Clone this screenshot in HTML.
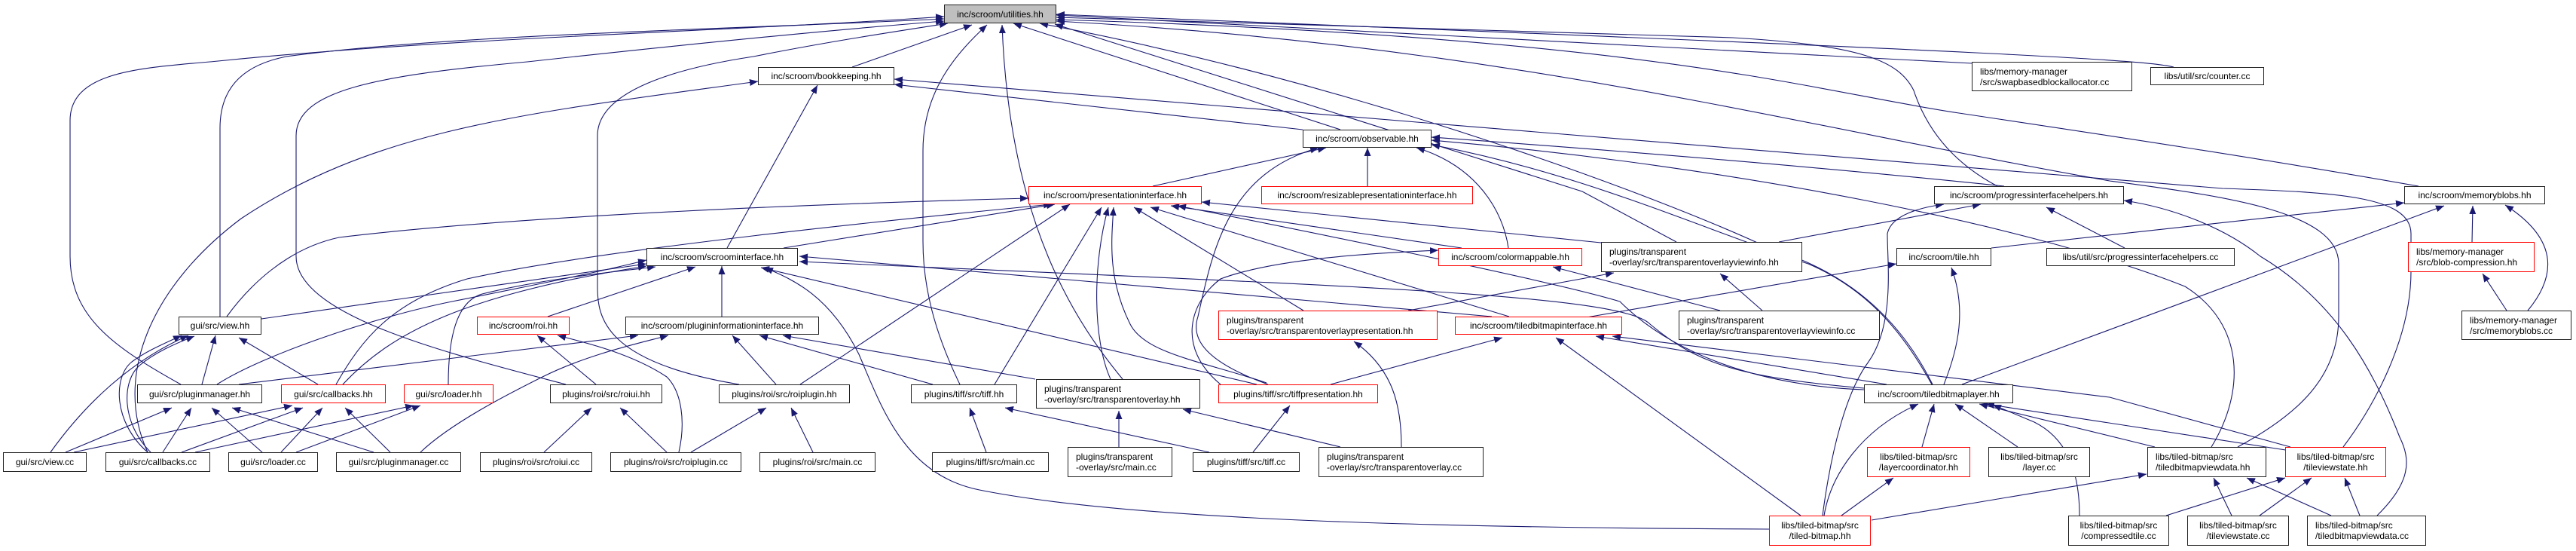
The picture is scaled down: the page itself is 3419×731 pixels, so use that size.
<!DOCTYPE html>
<html><head><meta charset="utf-8"><style>
html,body{margin:0;padding:0;background:#fff;}
#c{position:relative;width:3419px;height:731px;overflow:hidden;background:#fff;}
svg{position:absolute;left:0;top:0;}
.n{position:absolute;box-sizing:border-box;border:1.3px solid #222;background:#fff;font:12px "Liberation Sans",sans-serif;color:#000;display:flex;align-items:center;justify-content:center;white-space:nowrap;}
.r{border-color:#f00;}
.t{justify-content:flex-start;padding-left:10px;line-height:14px;}
.g{background:#bfbfbf;}
</style></head><body><div id="c">
<svg width="3419" height="731" viewBox="0 0 3419 731">
<defs><marker id="a" markerWidth="12" markerHeight="9" refX="11" refY="4.5" orient="auto" markerUnits="userSpaceOnUse"><path d="M0,0 L11,4.5 L0,9 z" fill="#191970"/></marker></defs>
<g fill="none" stroke="#191970" stroke-width="1.1" marker-end="url(#a)">
<!-- to utilities -->
<path d="M240,510 C150,460 93,420 93,340 L93,160 C93,90 200,90 300,80 C600,50 1000,40 1253,22"/>
<path d="M292,420 L292,170 C292,110 330,85 380,75 C600,45 1000,38 1253,25"/>
<path d="M751,510 C600,470 393,420 393,340 L393,180 C393,120 500,100 700,82 C900,60 1100,40 1253,28"/>
<path d="M981,510 C800,480 793,420 793,380 L793,180 C793,120 900,90 1000,75 C1100,55 1200,40 1258,31"/>
<path d="M1131,89 L1290,33"/>
<path d="M1274,510 C1240,440 1225,380 1225,320 L1225,200 C1225,120 1270,70 1310,33"/>
<path d="M1490,503 C1430,430 1340,300 1330,33"/>
<path d="M1779,172 L1345,31"/>
<path d="M2225,321 L2100,254 L1400,32"/>
<path d="M2617,84 L1402,20"/>
<path d="M2885,89 C2850,80 2700,70 1402,19"/>
<path d="M2651,247 C2600,220 2560,180 2540,120 C2520,80 2470,60 2300,50 L1402,23"/>
<path d="M3210,247 C3000,210 2800,180 2600,150 C2400,120 2200,50 1402,26"/>
<path d="M2565,510 C2520,420 2450,360 2350,330 C2200,260 1800,110 1380,31"/>
<path d="M2970,593 C3050,550 3104,500 3104,420 L3104,350 C3104,280 2950,260 2800,240 C2400,170 2000,60 1402,28"/>
<!-- to bookkeeping -->
<path d="M965,329 L1085,113"/>
<path d="M196,600 C150,500 200,380 320,290 C500,170 700,150 1006,108"/>
<path d="M1729,172 L1187,112"/>
<path d="M3110,593 C3150,540 3200,450 3200,360 L3200,310 C3200,260 3100,255 2950,250 C2700,230 2000,170 1187,105"/>
<!-- to observable -->
<path d="M1530,247 L1760,196"/>
<path d="M1815,247 L1815,196"/>
<path d="M2002,329 C1995,280 1960,220 1880,196"/>
<path d="M1683,510 C1600,480 1580,450 1590,420 C1610,330 1630,230 1750,196"/>
<path d="M2564,510 C2520,430 2470,380 2400,350 C2250,300 2100,230 1900,192"/>
<path d="M2935,593 C2980,520 2980,430 2900,380 C2700,300 2300,220 1900,186"/>
<path d="M2660,247 C2400,220 2150,200 1900,182"/>
<!-- to presentationinterface -->
<path d="M1040,329 L1400,271"/>
<path d="M301,420 C330,380 380,330 450,315 C700,285 1100,270 1365,263"/>
<path d="M446,510 C480,450 520,400 620,370 C800,330 1200,290 1396,271"/>
<path d="M1474,503 C1450,450 1450,350 1471,275"/>
<path d="M1681,508 C1600,480 1520,470 1500,430 C1470,370 1475,320 1478,275"/>
<path d="M1320,510 L1462,275"/>
<path d="M1730,412 L1505,275"/>
<path d="M2003,420 L1527,275"/>
<path d="M1940,329 L1554,273"/>
<path d="M2474,517 C2300,510 2200,450 2150,400 C2050,370 1700,300 1563,273"/>
<path d="M2125,322 L1595,268"/>
<path d="M1062,510 L1420,271"/>
<!-- to scroominterface -->
<path d="M347,423 L858,350"/>
<path d="M455,510 C520,440 620,390 858,353"/>
<path d="M288,510 C350,470 500,420 600,400 C700,380 800,360 858,345"/>
<path d="M595,510 C595,450 605,400 640,390 C720,370 820,360 870,354"/>
<path d="M727,420 L923,354"/>
<path d="M958,420 L958,353"/>
<path d="M1668,510 L1010,355"/>
<path d="M2348,702 C1900,700 1500,690 1300,650 C1200,630 1170,540 1140,470 C1100,390 1050,370 1015,355"/>
<path d="M2474,515 C2300,500 2250,480 2190,430 C2150,390 1800,380 1061,347"/>
<path d="M1980,420 L1061,340"/>
<!-- to plugininformationinterface -->
<path d="M317,510 L847,445"/>
<path d="M558,600 C600,560 680,520 720,500 C780,470 850,455 887,445"/>
<path d="M1030,510 L972,445"/>
<path d="M1238,510 L1008,445"/>
<path d="M1374,503 L1039,445"/>
<!-- roi.hh -->
<path d="M791,510 L713,445"/>
<path d="M901,600 C910,560 905,520 885,500 C840,470 780,455 740,445"/>
<!-- view.hh -->
<path d="M268,510 L286,445"/>
<path d="M422,510 L317,448"/>
<path d="M67,600 C110,540 170,480 250,445"/>
<path d="M196,600 C150,560 150,500 175,480 C195,465 220,455 241,445"/>
<path d="M200,600 C160,560 162,505 185,485 C205,468 232,456 258,446"/>
<!-- pluginmanager.hh -->
<path d="M87,600 L228,541"/>
<path d="M216,600 L254,541"/>
<path d="M348,600 L281,541"/>
<path d="M496,600 L308,541"/>
<!-- callbacks.hh -->
<path d="M98,600 L388,538"/>
<path d="M241,600 L402,541"/>
<path d="M373,600 L428,541"/>
<path d="M518,600 L458,541"/>
<!-- loader.hh -->
<path d="M259,600 L549,538"/>
<path d="M393,600 L558,538"/>
<!-- roi -->
<path d="M722,600 L785,541"/>
<path d="M885,600 L823,541"/>
<path d="M917,600 L1017,541"/>
<path d="M1079,600 L1050,541"/>
<path d="M1309,600 L1287,541"/>
<path d="M1605,600 L1334,541"/>
<path d="M1485,593 L1485,545"/>
<path d="M1779,593 L1570,543"/>
<path d="M1663,600 L1712,538"/>
<path d="M1860,593 C1860,540 1850,490 1797,453"/>
<!-- tiledbitmapinterface -->
<path d="M1766,510 L1994,448"/>
<path d="M2504,510 L2118,446"/>
<path d="M3040,593 L2800,527 L2140,446"/>
<path d="M2390,684 L2065,448"/>
<path d="M2100,422 L2517,350"/>
<!-- colormappable / viewinfo -->
<path d="M1620,510 C1560,460 1580,400 1620,370 C1700,340 1850,335 1909,332"/>
<path d="M2283,412 L2061,354"/>
<path d="M1869,412 L2142,362"/>
<path d="M2339,412 L2283,363"/>
<!-- progressinterfacehelpers -->
<path d="M2361,321 L2629,271"/>
<path d="M2419,684 C2430,600 2450,520 2480,480 C2515,430 2505,350 2505,310 C2510,285 2550,275 2580,271"/>
<path d="M2820,329 L2716,275"/>
<path d="M3155,684 C3200,640 3200,610 3185,580 C3150,490 3100,400 3000,340 C2950,300 2880,275 2819,266"/>
<!-- memoryblobs -->
<path d="M2643,329 L3191,269"/>
<path d="M2604,510 L3244,273"/>
<path d="M3281,321 L3282,273"/>
<path d="M3355,412 C3390,370 3400,320 3325,272"/>
<path d="M3327,412 L3295,363"/>
<!-- tile.hh -->
<path d="M2580,510 C2600,460 2610,410 2590,355"/>
<!-- tiledbitmaplayer -->
<path d="M2421,684 C2430,630 2470,570 2546,536"/>
<path d="M2551,593 L2567,536"/>
<path d="M2678,593 L2595,536"/>
<path d="M2860,593 L2627,536"/>
<path d="M3040,598 L2636,536"/>
<path d="M2760,684 C2760,620 2740,580 2700,560 L2645,537"/>
<!-- layercoordinator -->
<path d="M2444,684 L2513,634"/>
<!-- tiledbitmapviewdata.hh -->
<path d="M2484,690 L2849,629"/>
<path d="M2962,684 L2938,634"/>
<path d="M3094,684 L2982,634"/>
<!-- tileviewstate.hh -->
<path d="M2875,684 L3033,634"/>
<path d="M2999,684 L3068,634"/>
<path d="M3132,684 L3112,634"/>
</g>
</svg>
<div class="n g" style="left:1253px;top:6px;width:149px;height:25px">inc/scroom/utilities.hh</div>
<div class="n" style="left:1006px;top:89px;width:181px;height:24px">inc/scroom/bookkeeping.hh</div>
<div class="n t" style="left:2617px;top:82px;width:213px;height:39px">libs/memory-manager<br>/src/swapbasedblockallocator.cc</div>
<div class="n" style="left:2854px;top:89px;width:151px;height:24px">libs/util/src/counter.cc</div>
<div class="n" style="left:1729px;top:172px;width:171px;height:24px">inc/scroom/observable.hh</div>
<div class="n r" style="left:1365px;top:247px;width:230px;height:24px">inc/scroom/presentationinterface.hh</div>
<div class="n r" style="left:1674px;top:247px;width:281px;height:24px">inc/scroom/resizablepresentationinterface.hh</div>
<div class="n" style="left:2567px;top:247px;width:252px;height:24px">inc/scroom/progressinterfacehelpers.hh</div>
<div class="n" style="left:3191px;top:247px;width:187px;height:24px">inc/scroom/memoryblobs.hh</div>
<div class="n" style="left:858px;top:329px;width:201px;height:24px">inc/scroom/scroominterface.hh</div>
<div class="n r" style="left:1909px;top:329px;width:191px;height:24px">inc/scroom/colormappable.hh</div>
<div class="n t" style="left:2125px;top:321px;width:267px;height:40px">plugins/transparent<br>-overlay/src/transparentoverlayviewinfo.hh</div>
<div class="n" style="left:2517px;top:329px;width:126px;height:24px">inc/scroom/tile.hh</div>
<div class="n" style="left:2716px;top:329px;width:250px;height:24px">libs/util/src/progressinterfacehelpers.cc</div>
<div class="n r t" style="left:3196px;top:321px;width:168px;height:40px">libs/memory-manager<br>/src/blob-compression.hh</div>
<div class="n" style="left:237px;top:420px;width:110px;height:24px">gui/src/view.hh</div>
<div class="n r" style="left:633px;top:420px;width:123px;height:24px">inc/scroom/roi.hh</div>
<div class="n" style="left:830px;top:420px;width:257px;height:24px">inc/scroom/plugininformationinterface.hh</div>
<div class="n r t" style="left:1617px;top:412px;width:291px;height:39px">plugins/transparent<br>-overlay/src/transparentoverlaypresentation.hh</div>
<div class="n r" style="left:1931px;top:420px;width:222px;height:24px">inc/scroom/tiledbitmapinterface.hh</div>
<div class="n t" style="left:2228px;top:412px;width:267px;height:39px">plugins/transparent<br>-overlay/src/transparentoverlayviewinfo.cc</div>
<div class="n t" style="left:3267px;top:412px;width:146px;height:39px">libs/memory-manager<br>/src/memoryblobs.cc</div>
<div class="n" style="left:182px;top:510px;width:166px;height:25px">gui/src/pluginmanager.hh</div>
<div class="n r" style="left:373px;top:510px;width:139px;height:25px">gui/src/callbacks.hh</div>
<div class="n r" style="left:536px;top:510px;width:119px;height:25px">gui/src/loader.hh</div>
<div class="n" style="left:730px;top:510px;width:149px;height:25px">plugins/roi/src/roiui.hh</div>
<div class="n" style="left:954px;top:510px;width:174px;height:25px">plugins/roi/src/roiplugin.hh</div>
<div class="n" style="left:1209px;top:510px;width:141px;height:25px">plugins/tiff/src/tiff.hh</div>
<div class="n t" style="left:1375px;top:503px;width:218px;height:39px">plugins/transparent<br>-overlay/src/transparentoverlay.hh</div>
<div class="n r" style="left:1617px;top:510px;width:212px;height:25px">plugins/tiff/src/tiffpresentation.hh</div>
<div class="n" style="left:2474px;top:510px;width:198px;height:25px">inc/scroom/tiledbitmaplayer.hh</div>
<div class="n t" style="left:1417px;top:593px;width:139px;height:40px">plugins/transparent<br>-overlay/src/main.cc</div>
<div class="n t" style="left:1750px;top:593px;width:219px;height:40px">plugins/transparent<br>-overlay/src/transparentoverlay.cc</div>
<div class="n r" style="left:2478px;top:593px;width:137px;height:40px;text-align:center;line-height:14px">libs/tiled-bitmap/src<br>/layercoordinator.hh</div>
<div class="n" style="left:2639px;top:593px;width:135px;height:40px;text-align:center;line-height:14px">libs/tiled-bitmap/src<br>/layer.cc</div>
<div class="n t" style="left:2850px;top:593px;width:158px;height:40px">libs/tiled-bitmap/src<br>/tiledbitmapviewdata.hh</div>
<div class="n r" style="left:3033px;top:593px;width:134px;height:40px;text-align:center;line-height:14px">libs/tiled-bitmap/src<br>/tileviewstate.hh</div>
<div class="n" style="left:4px;top:600px;width:111px;height:26px">gui/src/view.cc</div>
<div class="n" style="left:140px;top:600px;width:139px;height:26px">gui/src/callbacks.cc</div>
<div class="n" style="left:303px;top:600px;width:119px;height:26px">gui/src/loader.cc</div>
<div class="n" style="left:446px;top:600px;width:166px;height:26px">gui/src/pluginmanager.cc</div>
<div class="n" style="left:637px;top:600px;width:149px;height:26px">plugins/roi/src/roiui.cc</div>
<div class="n" style="left:810px;top:600px;width:174px;height:26px">plugins/roi/src/roiplugin.cc</div>
<div class="n" style="left:1008px;top:600px;width:154px;height:26px">plugins/roi/src/main.cc</div>
<div class="n" style="left:1237px;top:600px;width:155px;height:26px">plugins/tiff/src/main.cc</div>
<div class="n" style="left:1583px;top:600px;width:142px;height:26px">plugins/tiff/src/tiff.cc</div>
<div class="n r" style="left:2348px;top:684px;width:135px;height:40px;text-align:center;line-height:14px">libs/tiled-bitmap/src<br>/tiled-bitmap.hh</div>
<div class="n" style="left:2745px;top:684px;width:134px;height:40px;text-align:center;line-height:14px">libs/tiled-bitmap/src<br>/compressedtile.cc</div>
<div class="n" style="left:2903px;top:684px;width:135px;height:40px;text-align:center;line-height:14px">libs/tiled-bitmap/src<br>/tileviewstate.cc</div>
<div class="n t" style="left:3062px;top:684px;width:158px;height:40px">libs/tiled-bitmap/src<br>/tiledbitmapviewdata.cc</div>
</div></body></html>
